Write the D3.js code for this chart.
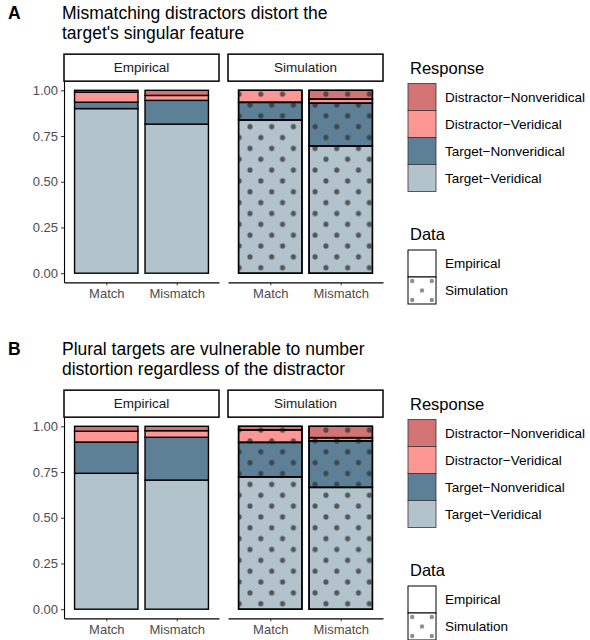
<!DOCTYPE html>
<html>
<head>
<meta charset="utf-8">
<script src="https://cdn.jsdelivr.net/npm/d3@7"></script>
<style>
  body { margin: 0; background: #fff; }
  svg { font-family: "Liberation Sans", Arial, sans-serif; }
</style>
</head>
<body>
<div id="chart"></div>
<script>
// categories and series
const conditions = ["Match", "Mismatch"];
const sources = ["Empirical", "Simulation"];
const responses = ["Target−Veridical", "Target−Nonveridical", "Distractor−Veridical", "Distractor−Nonveridical"];
const responseColors = ["#b2c3cc", "#5d8096", "#ff9696", "#d27474"];
const yTicks = [0, 0.25, 0.5, 0.75, 1];

// proportions, bottom to top: TV, TN, DV, DN
const singularEmpirical = [[0.900, 0.035, 0.055, 0.010], [0.815, 0.130, 0.027, 0.028]];
const singularSimulation = [[0.838, 0.096, 0.066, 0.000], [0.695, 0.234, 0.022, 0.049]];
const pluralEmpirical = [[0.743, 0.171, 0.059, 0.027], [0.706, 0.234, 0.036, 0.024]];
const pluralSimulation = [[0.724, 0.188, 0.069, 0.019], [0.666, 0.255, 0.017, 0.062]];

const panels = [
  { letter: "A", title: ["Mismatching distractors distort the", "target's singular feature"],
    data: [singularEmpirical, singularSimulation], oy: 0 },
  { letter: "B", title: ["Plural targets are vulnerable to number", "distortion regardless of the distractor"],
    data: [pluralEmpirical, pluralSimulation], oy: 336 }
];

const svg = d3.select("#chart").append("svg")
  .attr("width", 590).attr("height", 640);

const defs = svg.append("defs");
const facetX = [64, 228], facetW = 155;

// x scale inside one facet (ggplot discrete expansion 0.6)
const x = d3.scalePoint().domain(conditions).range([0, facetW]).padding(0.6);
const barW = x.step() * 0.9;

// strip the d3 axis defaults so the svg font is inherited
const styleAxis = sel => {
  sel.attr("font-family", null).attr("font-size", null);
  sel.select(".domain").attr("stroke", "#000").attr("stroke-width", 1.1);
  sel.selectAll(".tick line").attr("stroke", "#333");
  sel.selectAll(".tick text").attr("font-size", 13).attr("fill", "#4d4d4d");
};

panels.forEach((p, pi) => {
  const oy = p.oy;
  const g = svg.append("g");

  // dot pattern for the simulation bars
  const pat = defs.append("pattern")
    .attr("id", `dots-${pi}`)
    .attr("patternUnits", "userSpaceOnUse")
    .attr("x", 250).attr("y", 126.7 + oy)
    .attr("width", 21.7).attr("height", 21.7);
  [[0, 0], [21.7, 0], [0, 21.7], [21.7, 21.7], [10.85, 10.85]].forEach(([cx, cy]) => {
    pat.append("circle").attr("cx", cx).attr("cy", cy).attr("r", 2.6)
      .attr("fill", "#333").attr("fill-opacity", 0.75);
  });

  // title
  g.append("text").attr("x", 8).attr("y", 19 + oy)
    .attr("font-size", 17.5).attr("font-weight", "bold").text(p.letter);
  p.title.forEach((t, i) => {
    g.append("text").attr("x", 62).attr("y", 19 + oy + i * 20)
      .attr("font-size", 17.5).text(t);
  });

  const y = d3.scaleLinear().domain([0, 1]).range([273.2 + oy, 90.3 + oy]);
  const plotTop = y(1.05), plotBottom = y(-0.05);

  sources.forEach((src, si) => {
    const fx = facetX[si];
    const fg = g.append("g").attr("transform", `translate(${fx},0)`);

    // strip
    fg.append("rect").attr("x", 0).attr("y", plotTop - 27)
      .attr("width", facetW).attr("height", 27)
      .attr("fill", "#fff").attr("stroke", "#000").attr("stroke-width", 1.5);
    fg.append("text").attr("x", facetW / 2).attr("y", plotTop - 13.5)
      .attr("dy", "0.35em").attr("text-anchor", "middle")
      .attr("font-size", 13.5).attr("fill", "#1a1a1a").text(src);

    // stacked bars
    p.data[si].forEach((vals, ci) => {
      let acc = 0;
      const segs = vals.map((v, ri) => {
        const s = { y0: acc, y1: acc + v, ri };
        acc += v;
        return s;
      }).filter(s => s.y1 - s.y0 > 0);
      const bx = x(conditions[ci]) - barW / 2;
      segs.forEach(s => {
        fg.append("rect")
          .attr("x", bx).attr("y", y(s.y1))
          .attr("width", barW).attr("height", y(s.y0) - y(s.y1))
          .attr("fill", responseColors[s.ri])
          .attr("stroke", "#000").attr("stroke-width", 1.4);
        if (si === 1) {
          // pattern is in page coordinates, so draw it outside the facet transform
          g.append("rect")
            .attr("x", bx + fx).attr("y", y(s.y1))
            .attr("width", barW).attr("height", y(s.y0) - y(s.y1))
            .attr("fill", `url(#dots-${pi})`)
            .attr("stroke", "#000").attr("stroke-width", 1.4);
        }
      });
    });

    // x axis
    fg.append("g").attr("transform", `translate(0,${plotBottom})`)
      .call(d3.axisBottom(x).tickSize(3).tickSizeOuter(0).tickPadding(3))
      .call(styleAxis);
  });

  // y axis on the first facet
  g.append("g").attr("transform", `translate(${facetX[0]},0)`)
    .call(d3.axisLeft(y.copy().domain([-0.05, 1.05]).range([plotBottom, plotTop]))
      .tickValues(yTicks).tickFormat(d3.format(".2f")).tickSize(3).tickSizeOuter(0).tickPadding(3))
    .call(styleAxis);

  // legends
  const lx = 408, keyW = 28, keyH = 27;
  g.append("text").attr("x", 410).attr("y", 74 + oy).attr("font-size", 16.5).text("Response");
  responses.slice().reverse().forEach((r, i) => {
    const ky = 83.5 + oy + i * keyH;
    g.append("rect").attr("x", lx).attr("y", ky).attr("width", keyW).attr("height", keyH)
      .attr("fill", responseColors[responses.length - 1 - i])
      .attr("stroke", "#333").attr("stroke-width", 0.8);
    g.append("text").attr("x", 445).attr("y", ky + keyH / 2).attr("dy", "0.35em")
      .attr("font-size", 13.5).text(r);
  });

  g.append("text").attr("x", 410).attr("y", 240 + oy).attr("font-size", 16.5).text("Data");
  sources.forEach((s, i) => {
    const ky = 250 + oy + i * keyH;
    g.append("rect").attr("x", lx).attr("y", ky).attr("width", keyW).attr("height", keyH)
      .attr("fill", "#fff").attr("stroke", "#000").attr("stroke-width", 1);
    if (i === 1) {
      [[0.15, 0.15], [0.85, 0.15], [0.5, 0.5], [0.15, 0.85], [0.85, 0.85]].forEach(([u, v]) => {
        g.append("circle").attr("cx", lx + u * keyW).attr("cy", ky + v * keyH).attr("r", 2.2)
          .attr("fill", "#333").attr("fill-opacity", 0.55);
      });
    }
    g.append("text").attr("x", 445).attr("y", ky + keyH / 2).attr("dy", "0.35em")
      .attr("font-size", 13.5).text(s);
  });
});
</script>
</body>
</html>
